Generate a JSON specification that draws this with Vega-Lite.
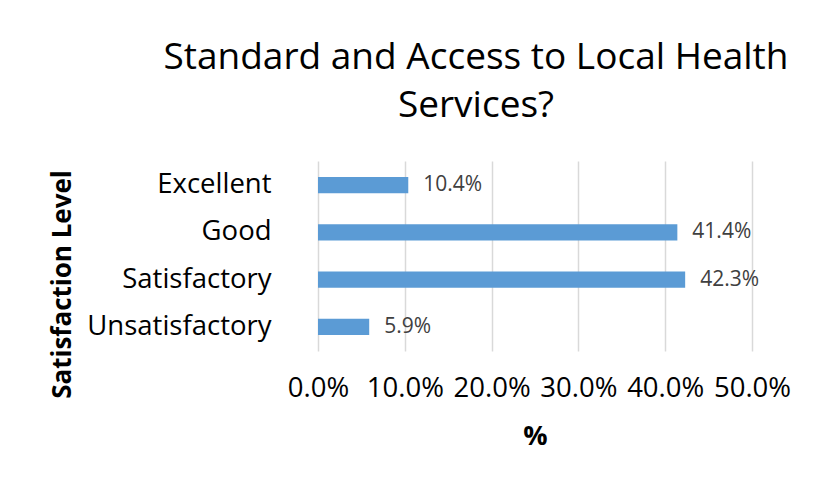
{
  "$schema": "https://vega.github.io/schema/vega-lite/v6.json",
  "width": 434,
  "height": 190,
  "autosize": {"type": "none"},
  "padding": {"left": 318, "top": 161, "right": 61, "bottom": 137},
  "background": "white",
  "title": {
    "text": ["Standard and Access to Local Health", "Services?"],
    "font": "Open Sans",
    "fontSize": 37,
    "fontWeight": "normal",
    "color": "#000000",
    "lineHeight": 48,
    "anchor": "middle",
    "frame": "group",
    "dx": -59,
    "offset": 36
  },
  "data": {
    "values": [
      {"level": "Excellent", "pct": 0.104},
      {"level": "Good", "pct": 0.414},
      {"level": "Satisfactory", "pct": 0.423},
      {"level": "Unsatisfactory", "pct": 0.059}
    ]
  },
  "encoding": {
    "y": {
      "field": "level",
      "type": "nominal",
      "sort": ["Excellent", "Good", "Satisfactory", "Unsatisfactory"],
      "scale": {"paddingInner": 0.66, "paddingOuter": 0.34},
      "axis": {
        "title": "Satisfaction Level",
        "titleFont": "Open Sans",
        "titleFontSize": 26,
        "titleFontWeight": "bold",
        "titleColor": "#000000",
        "titleAngle": -90,
        "titleAlign": "center",
        "titleBaseline": "middle",
        "titleX": -256,
        "titleY": 123,
        "labelFont": "Open Sans",
        "labelFontSize": 27.5,
        "labelColor": "#000000",
        "labelPadding": 47,
        "labelLimit": 400,
        "ticks": false,
        "domain": false,
        "grid": false
      }
    },
    "x": {
      "field": "pct",
      "type": "quantitative",
      "scale": {"domain": [0, 0.5], "nice": false},
      "axis": {
        "values": [0, 0.1, 0.2, 0.3, 0.4, 0.5],
        "format": ".1%",
        "title": "%",
        "titleFont": "Open Sans",
        "titleFontSize": 27,
        "titleFontWeight": "bold",
        "titleColor": "#000000",
        "titlePadding": 22,
        "labelFont": "Open Sans",
        "labelFontSize": 27.5,
        "labelColor": "#000000",
        "labelPadding": 23,
        "labelFlush": false,
        "ticks": false,
        "domain": false,
        "grid": true,
        "gridColor": "#D9D9D9",
        "gridWidth": 1.5
      }
    }
  },
  "layer": [
    {"mark": {"type": "bar", "color": "#5B9BD5"}},
    {
      "mark": {
        "type": "text",
        "align": "left",
        "baseline": "middle",
        "dx": 15,
        "font": "Open Sans",
        "fontSize": 21,
        "color": "#404040"
      },
      "encoding": {"text": {"field": "pct", "type": "quantitative", "format": ".1%"}}
    }
  ],
  "config": {"view": {"stroke": null}}
}
